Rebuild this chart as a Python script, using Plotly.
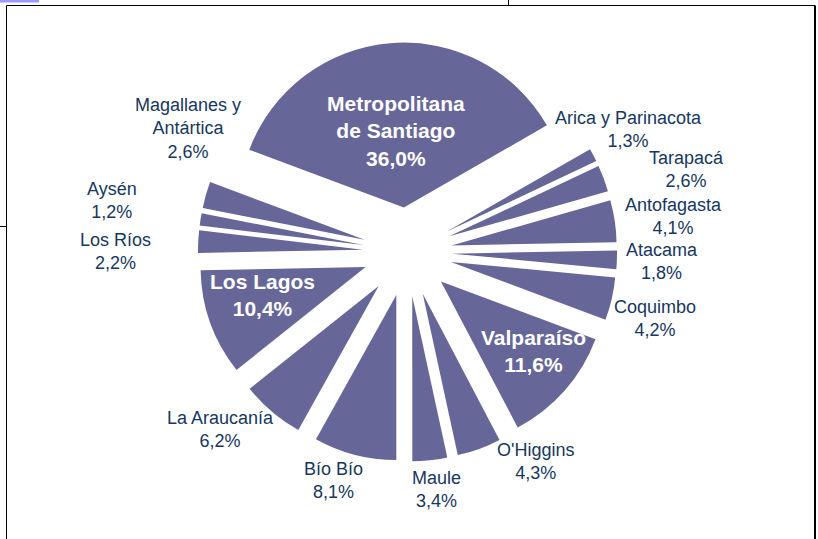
import plotly.graph_objects as go

# Distribución regional (%), orden horario empezando por la RM
regions = ["Metropolitana de Santiago", "Arica y Parinacota", "Tarapacá", "Antofagasta",
           "Atacama", "Coquimbo", "Valparaíso", "O'Higgins", "Maule", "Bío Bío",
           "La Araucanía", "Los Lagos", "Los Ríos", "Aysén", "Magallanes y Antártica"]
shares = [36.0, 1.3, 2.6, 4.1, 1.8, 4.2, 11.6, 4.3, 3.4, 8.1, 6.2, 10.4, 2.2, 1.2, 2.6]
inside = ["Metropolitana de Santiago", "Valparaíso", "Los Lagos"]

W, H = 818, 539
SLICE = "#666699"
TEXT = "#17375E"

# label centres in px (placed by hand in the original)
label_pos = {
    "Metropolitana de Santiago": (396, 131),
    "Arica y Parinacota": (628, 129),
    "Tarapacá": (686, 169),
    "Antofagasta": (673, 216),
    "Atacama": (662, 261),
    "Coquimbo": (655, 318),
    "Valparaíso": (533, 351),
    "O'Higgins": (535, 461),
    "Maule": (436, 489),
    "Bío Bío": (333, 480),
    "La Araucanía": (220, 429),
    "Los Lagos": (262, 295),
    "Los Ríos": (115, 252),
    "Aysén": (112, 200),
    "Magallanes y Antártica": (188, 128),
}
wrap = {"Metropolitana de Santiago": "Metropolitana<br>de Santiago",
        "Magallanes y Antártica": "Magallanes y<br>Antártica"}


def px(x):
    return x / W


def py(y):
    return 1 - y / H


pull = 0.27
r_out = 165 * (1 + pull)
cx, cy = 407.5, 252

fig = go.Figure(go.Pie(
    labels=regions, values=shares, sort=False, direction="clockwise", rotation=-69.5,
    pull=[pull] * len(shares), textinfo="none", hoverinfo="label+value",
    marker=dict(colors=[SLICE] * len(shares), line=dict(width=0)),
    domain=dict(x=[px(cx - r_out), px(cx + r_out)], y=[py(cy + r_out), py(cy - r_out)]),
    showlegend=False,
))

annotations = []
for name, v in zip(regions, shares):
    x, y = label_pos[name]
    txt = wrap.get(name, name) + "<br>" + f"{v:.1f}".replace(".", ",") + "%"
    if name in inside:
        font = dict(family="Liberation Sans, Arial", size=21, color="white", weight="bold")
    else:
        font = dict(family="Liberation Sans, Arial", size=18, color=TEXT)
    annotations.append(dict(x=px(x), y=py(y), xref="paper", yref="paper", text=txt,
                            showarrow=False, xanchor="center", yanchor="middle",
                            align="center", font=font))

line = dict(color="black", width=1)
shapes = [
    dict(type="line", xref="paper", yref="paper", x0=px(6.5), x1=px(815), y0=py(5.5), y1=py(5.5), line=line),
    dict(type="line", xref="paper", yref="paper", x0=px(6.5), x1=px(6.5), y0=py(5.5), y1=py(545), line=line),
    dict(type="line", xref="paper", yref="paper", x0=px(815), x1=px(815), y0=py(5.5), y1=py(545),
         line=dict(color="black", width=2)),
    dict(type="line", xref="paper", yref="paper", x0=px(508.5), x1=px(508.5), y0=py(0), y1=py(5.5), line=line),
    dict(type="line", xref="paper", yref="paper", x0=px(0), x1=px(6.5), y0=py(226.5), y1=py(226.5), line=line),
    dict(type="rect", xref="paper", yref="paper", x0=px(0), x1=px(39), y0=py(0), y1=py(2.5),
         fillcolor="#9999FF", line=dict(width=0)),
]

fig.update_layout(
    width=W, height=H, margin=dict(l=0, r=0, t=0, b=0),
    paper_bgcolor="white", plot_bgcolor="white",
    annotations=annotations, shapes=shapes,
)
# the page body has a default 8px margin; drop it so the figure sits at the window corner
fig.write_html("out.html", config={"displayModeBar": False},
               post_script="document.body.style.margin='0';")
